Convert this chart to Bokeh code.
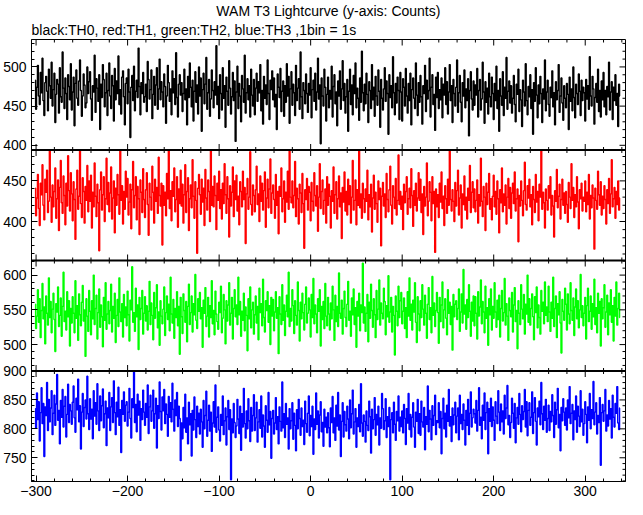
import math
from bokeh.plotting import figure
from bokeh.models import Range1d, FixedTicker, Span, Title
from bokeh.embed import file_html
from bokeh.resources import INLINE

FONT = "Liberation Sans"

# first bin time (s); 1 bin = 1 s
T_START = -301

# TH0 (black) counts per 1 s bin
th0 = [
    483, 446, 474, 502, 463, 452, 493, 467, 511, 457, 438, 480, 488, 469, 444, 497, 476, 460, 506, 450,
    471, 492, 429, 465, 484, 478, 441, 499, 462, 455, 519, 473, 447, 486, 466, 433, 490, 475, 458, 504,
    445, 468, 487, 425, 479, 496, 460, 451, 482, 509, 470, 437, 463, 491, 477, 448, 454, 500, 466, 481,
    494, 459, 432, 476, 468, 515, 442, 485, 473, 456, 490, 420, 478, 461, 503, 484, 449, 467, 492, 438,
    470, 505, 463, 447, 489, 476, 431, 498, 458, 482, 466, 514, 452, 471, 440, 487, 495, 462, 426, 479,
    486, 453, 497, 468, 410, 474, 489, 457, 501, 444, 469, 483, 461, 524, 475, 439, 480, 466, 493, 455,
    462, 478, 443, 507, 484, 459, 471, 496, 434, 465, 488, 451, 477, 499, 446, 472, 510, 458, 481, 468,
    449, 491, 475, 428, 463, 502, 480, 456, 472, 439, 495, 467, 485, 452, 518, 461, 436, 478, 490, 464,
    480, 443, 466, 497, 458, 472, 426, 488, 461, 505, 474, 449, 483, 431, 469, 494, 455, 477, 440, 500,
    463, 486, 418, 471, 492, 453, 478, 512, 446, 467, 484, 437, 459, 496, 470, 448, 481, 464, 527, 452,
    475, 434, 490, 466, 445, 499, 460, 476, 423, 487, 469, 451, 508, 473, 440, 462, 493, 457, 482, 405,
    468, 501, 447, 479, 463, 430, 489, 472, 455, 515, 441, 467, 485, 458, 476, 436, 497, 464, 450, 484,
    439, 473, 492, 456, 481, 467, 503, 444, 470, 427, 488, 460, 477, 452, 509, 466, 433, 483, 471, 495,
    458, 486, 449, 465, 420, 491, 474, 461, 498, 443, 469, 482, 437, 476, 455, 504, 463, 488, 428, 472,
    494, 451, 478, 467, 438, 502, 457, 473, 485, 446, 519, 462, 434, 480, 470, 453, 491, 466, 442, 479,
    464, 499, 435, 471, 483, 456, 492, 445, 468, 511, 459, 477, 402, 486, 463, 450, 497, 474, 431, 465,
    487, 448, 470, 459, 501, 436, 475, 490, 453, 468, 425, 482, 463, 495, 446, 472, 508, 457, 479, 441,
    462, 484, 418, 469, 497, 452, 477, 439, 489, 466, 505, 448, 473, 460, 432, 486, 455, 520, 467, 444,
    478, 453, 492, 465, 429, 481, 470, 447, 503, 458, 474, 437, 488, 463, 451, 496, 469, 423, 484, 460,
    445, 472, 499, 456, 482, 466, 414, 490, 461, 476, 448, 513, 467, 439, 479, 454, 487, 470, 433, 493,
    468, 431, 485, 474, 450, 498, 463, 441, 479, 457, 492, 426, 471, 486, 460, 447, 505, 464, 438, 480,
    455, 489, 462, 427, 476, 466, 502, 443, 483, 459, 470, 511, 436, 474, 490, 452, 465, 419, 487, 461,
    493, 447, 471, 458, 486, 435, 478, 464, 499, 452, 481, 440, 468, 503, 457, 476, 429, 484, 466, 450,
    474, 509, 442, 467, 489, 455, 430, 480, 463, 496, 448, 472, 457, 485, 412, 470, 494, 459, 445, 482,
    451, 477, 464, 498, 436, 470, 484, 445, 459, 506, 468, 428, 481, 455, 473, 440, 492, 462, 449, 487,
    466, 433, 479, 457, 501, 447, 470, 418, 485, 463, 451, 494, 438, 474, 460, 512, 446, 469, 482, 454,
    476, 441, 460, 489, 452, 430, 478, 465, 497, 443, 471, 458, 424, 483, 468, 450, 504, 457, 439, 475,
    462, 490, 447, 471, 414, 480, 456, 499, 464, 435, 477, 453, 488, 466, 429, 472, 459, 509, 444, 468,
    483, 452, 437, 474, 461, 495, 449, 467, 426, 481, 458, 470, 503, 442, 463, 486, 454, 432, 476, 460,
    448, 479, 465, 420, 487, 456, 472, 444, 500, 461, 435, 478, 466, 452, 491, 469, 438, 483, 457, 474,
    467, 431, 484, 459, 476, 446, 513, 463, 450, 488, 472, 427, 461, 479, 455, 497, 443, 470, 436, 482,
    458, 493, 449, 470, 439, 475, 462, 506, 445, 468, 481, 433, 474, 457, 490, 451, 466, 424, 478, 463,
]

# TH1 (red)
th1 = [
    441, 407, 429, 458, 416, 395, 447, 433, 470, 420, 402, 452, 436, 463, 411, 425, 488, 430, 399, 445,
    418, 437, 466, 404, 428, 451, 389, 442, 475, 423, 410, 456, 432, 396, 447, 419, 481, 438, 413, 460,
    434, 401, 449, 427, 378, 440, 463, 415, 431, 488, 422, 405, 454, 437, 398, 443, 426, 469, 412, 450,
    425, 457, 392, 436, 418, 472, 431, 406, 446, 423, 364, 439, 461, 414, 433, 455, 400, 428, 478, 421,
    448, 412, 435, 467, 403, 429, 450, 386, 441, 420, 458, 433, 409, 488, 426, 444, 397, 437, 415, 462,
    430, 453, 408, 424, 446, 391, 439, 474, 417, 432, 455, 402, 443, 428, 384, 451, 436, 411, 465, 427,
    405, 439, 460, 421, 383, 447, 430, 414, 468, 436, 398, 452, 425, 442, 410, 479, 432, 419, 447, 371,
    444, 420, 436, 407, 459, 428, 488, 416, 438, 401, 449, 431, 466, 412, 427, 455, 393, 440, 422, 463,
    419, 446, 398, 433, 470, 411, 437, 454, 389, 428, 445, 417, 476, 431, 404, 449, 426, 361, 441, 458,
    433, 409, 452, 424, 441, 395, 464, 429, 414, 451, 437, 400, 488, 420, 443, 418, 456, 432, 390, 447,
    426, 462, 416, 439, 403, 447, 422, 471, 433, 410, 455, 428, 381, 444, 419, 436, 467, 406, 450, 427,
    457, 413, 431, 396, 449, 437, 418, 462, 427, 442, 373, 434, 453, 415, 430, 486, 421, 408, 445, 432,
    412, 439, 468, 421, 434, 400, 456, 425, 447, 414, 438, 461, 393, 429, 452, 417, 440, 477, 410, 435,
    445, 427, 404, 458, 420, 437, 385, 443, 431, 466, 412, 428, 450, 399, 436, 424, 462, 415, 488, 430,
    423, 450, 417, 432, 474, 406, 441, 428, 397, 446, 435, 411, 459, 422, 367, 439, 427, 453, 414, 443,
    436, 401, 448, 425, 413, 460, 432, 419, 444, 388, 430, 471, 416, 437, 451, 409, 426, 440, 398, 455,
    420, 446, 431, 392, 438, 425, 467, 410, 433, 449, 403, 428, 456, 418, 435, 379, 442, 424, 461, 413,
    437, 408, 452, 421, 444, 398, 430, 475, 414, 426, 451, 396, 439, 420, 488, 417, 434, 404, 447, 428,
    411, 440, 425, 463, 402, 433, 418, 446, 387, 429, 457, 415, 436, 422, 399, 450, 427, 441, 370, 431,
    448, 419, 434, 405, 459, 427, 412, 439, 468, 420, 397, 444, 430, 416, 453, 408, 426, 482, 421, 437,
    415, 431, 390, 446, 423, 437, 455, 409, 428, 441, 417, 465, 432, 394, 438, 420, 447, 413, 429, 460,
    426, 452, 411, 434, 384, 443, 419, 430, 472, 407, 425, 449, 436, 401, 455, 422, 437, 362, 440, 418,
    433, 405, 447, 424, 461, 416, 431, 395, 444, 428, 410, 452, 420, 488, 427, 413, 439, 425, 400, 448,
    419, 438, 463, 408, 429, 445, 392, 434, 421, 456, 414, 430, 403, 441, 426, 469, 411, 436, 449, 417,
    440, 412, 426, 451, 398, 433, 419, 478, 425, 406, 443, 430, 389, 447, 421, 436, 459, 415, 428, 402,
    431, 457, 418, 437, 409, 450, 428, 386, 439, 423, 466, 412, 434, 420, 445, 397, 430, 453, 416, 442,
    404, 435, 447, 422, 461, 413, 428, 440, 375, 432, 419, 450, 426, 407, 438, 473, 421, 414, 444, 429,
    452, 418, 433, 396, 443, 427, 411, 458, 424, 437, 401, 446, 430, 488, 415, 436, 423, 392, 440, 426,
    414, 444, 429, 455, 408, 432, 419, 381, 438, 425, 464, 417, 431, 446, 403, 427, 452, 420, 435, 410,
    437, 421, 399, 448, 430, 416, 471, 426, 442, 405, 433, 418, 455, 424, 391, 439, 428, 447, 413, 430,
    425, 450, 412, 436, 421, 458, 403, 432, 417, 445, 429, 366, 441, 426, 415, 462, 433, 420, 449, 408,
    431, 416, 444, 427, 397, 439, 422, 453, 410, 434, 476, 418, 428, 442, 404, 437, 421, 450, 414, 429,
]

# TH2 (green)
th2 = [
    558, 523, 541, 579, 532, 566, 510, 549, 588, 537, 554, 501, 570, 545, 528, 596, 539, 562, 517, 551,
    574, 536, 490, 559, 547, 583, 526, 542, 567, 512, 555, 604, 533, 548, 521, 576, 540, 563, 498, 552,
    531, 569, 545, 517, 592, 538, 556, 506, 573, 543, 527, 561, 585, 534, 550, 483, 566, 541, 519, 578,
    548, 514, 563, 537, 600, 529, 552, 571, 508, 546, 580, 525, 557, 540, 497, 568, 535, 589, 522, 544,
    562, 530, 549, 587, 518, 555, 538, 574, 503, 542, 565, 526, 596, 547, 533, 559, 511, 572, 539, 554,
    527, 577, 543, 505, 564, 550, 612, 532, 546, 519, 581, 540, 557, 493, 568, 536, 552, 578, 515, 545,
    569, 534, 556, 521, 548, 591, 529, 560, 542, 507, 575, 538, 553, 586, 524, 547, 499, 563, 541, 530,
    551, 583, 513, 546, 570, 536, 558, 520, 597, 544, 531, 565, 509, 552, 539, 576, 527, 555, 486, 568,
    540, 516, 573, 549, 532, 562, 504, 555, 587, 529, 546, 570, 518, 559, 543, 601, 535, 523, 566, 548,
    575, 537, 553, 496, 564, 545, 582, 526, 541, 568, 511, 556, 539, 592, 530, 549, 514, 577, 544, 533,
    522, 561, 546, 584, 517, 538, 572, 550, 501, 563, 534, 557, 589, 528, 545, 568, 508, 552, 579, 540,
    557, 529, 597, 543, 562, 512, 548, 535, 574, 520, 554, 542, 491, 566, 537, 583, 524, 550, 561, 515,
    543, 570, 531, 555, 507, 581, 546, 559, 527, 594, 539, 518, 563, 549, 576, 532, 556, 500, 568, 541,
    565, 520, 547, 576, 538, 553, 487, 569, 544, 529, 586, 535, 557, 513, 548, 571, 540, 604, 526, 552,
    534, 579, 556, 516, 563, 542, 528, 590, 549, 505, 561, 537, 574, 546, 521, 558, 583, 531, 545, 567,
    550, 511, 572, 539, 595, 530, 557, 544, 517, 566, 548, 579, 498, 555, 536, 562, 523, 588, 541, 527,
    568, 544, 521, 560, 537, 584, 550, 506, 571, 533, 555, 526, 603, 545, 538, 564, 515, 552, 577, 539,
    526, 558, 591, 535, 548, 512, 567, 543, 580, 529, 553, 496, 562, 541, 574, 520, 557, 546, 617, 531,
    554, 519, 545, 572, 504, 561, 538, 587, 549, 525, 566, 543, 510, 578, 536, 551, 593, 528, 560, 545,
    537, 581, 562, 514, 556, 540, 599, 532, 547, 568, 518, 555, 542, 485, 570, 548, 527, 584, 539, 563,
    575, 530, 548, 567, 523, 553, 510, 576, 541, 596, 535, 558, 521, 564, 547, 589, 532, 503, 569, 544,
    520, 563, 539, 586, 551, 528, 571, 545, 509, 558, 582, 536, 553, 517, 598, 542, 560, 526, 549, 575,
    546, 502, 568, 533, 557, 590, 524, 550, 566, 538, 514, 579, 545, 561, 529, 555, 492, 572, 540, 558,
    563, 536, 552, 580, 519, 547, 573, 531, 608, 544, 557, 522, 565, 539, 586, 548, 512, 561, 534, 570,
    527, 569, 545, 508, 576, 541, 554, 593, 530, 562, 547, 517, 584, 538, 553, 499, 566, 543, 580, 521,
    555, 538, 589, 547, 525, 564, 536, 571, 511, 552, 578, 534, 546, 595, 528, 559, 541, 506, 567, 549,
    540, 575, 518, 557, 582, 533, 549, 494, 563, 545, 529, 586, 551, 537, 572, 515, 558, 544, 600, 532,
    566, 528, 552, 573, 540, 507, 569, 546, 583, 524, 557, 539, 515, 578, 548, 561, 530, 590, 542, 554,
    533, 584, 547, 519, 561, 538, 597, 526, 552, 570, 510, 559, 543, 576, 531, 488, 565, 548, 535, 581,
    558, 521, 573, 544, 530, 589, 549, 535, 567, 513, 554, 580, 537, 563, 524, 550, 601, 539, 556, 527,
    545, 568, 508, 556, 581, 533, 548, 570, 522, 559, 540, 594, 529, 553, 517, 574, 545, 562, 498, 566,
    537, 553, 586, 525, 547, 571, 514, 560, 543, 579, 532, 556, 505, 568, 541, 590, 528, 552, 574, 539,
]

# TH3 (blue)
th3 = [
    835, 801, 862, 816, 847, 779, 828, 871, 809, 844, 752, 838, 823, 880, 797, 851, 812, 836, 866, 790,
    827, 858, 806, 843, 894, 815, 832, 774, 849, 820, 868, 803, 839, 856, 786, 825, 877, 811, 842, 831,
    808, 846, 874, 819, 794, 853, 833, 886, 812, 840, 765, 829, 861, 804, 837, 850, 817, 891, 826, 799,
    852, 817, 834, 783, 866, 822, 845, 808, 878, 831, 797, 857, 814, 840, 869, 802, 826, 848, 771, 836,
    819, 863, 797, 838, 854, 811, 883, 828, 790, 846, 821, 872, 806, 833, 759, 849, 825, 864, 813, 841,
    847, 805, 829, 870, 818, 784, 852, 837, 899, 811, 842, 795, 860, 824, 848, 780, 835, 816, 867, 829,
    806, 844, 820, 876, 792, 838, 858, 813, 831, 867, 801, 826, 853, 767, 840, 818, 881, 830, 798, 855,
    831, 868, 809, 843, 825, 787, 856, 820, 845, 812, 879, 834, 796, 850, 823, 863, 804, 839, 818, 745,
    810, 783, 837, 802, 860, 794, 819, 774, 846, 807, 826, 753, 832, 798, 855, 816, 785, 839, 804, 827,
    791, 834, 812, 768, 849, 800, 823, 865, 787, 815, 841, 796, 829, 761, 810, 847, 803, 876, 794, 820,
    838, 798, 779, 825, 806, 857, 790, 814, 836, 772, 821, 849, 799, 833, 712, 817, 793, 844, 811, 785,
    805, 851, 817, 792, 839, 763, 826, 803, 870, 809, 784, 831, 800, 852, 814, 778, 837, 796, 823, 859,
    797, 819, 846, 777, 812, 833, 801, 857, 786, 824, 805, 768, 840, 815, 794, 863, 807, 830, 749, 818,
    832, 791, 810, 854, 799, 821, 774, 838, 813, 796, 881, 802, 826, 785, 844, 808, 819, 765, 835, 800,
    814, 845, 782, 827, 806, 762, 833, 800, 851, 818, 789, 836, 804, 815, 773, 848, 809, 794, 827, 857,
    788, 823, 804, 839, 756, 817, 799, 862, 808, 831, 784, 824, 847, 795, 811, 770, 834, 803, 820, 793,
    828, 802, 769, 836, 811, 856, 793, 819, 780, 841, 805, 863, 798, 824, 752, 813, 845, 786, 830, 807,
    796, 839, 817, 783, 850, 802, 826, 867, 791, 812, 835, 768, 819, 804, 842, 795, 878, 810, 787, 824,
    813, 777, 831, 806, 797, 848, 821, 758, 834, 800, 816, 854, 789, 825, 807, 839, 772, 819, 801, 861,
    835, 799, 814, 852, 785, 821, 804, 837, 712, 816, 828, 793, 846, 808, 780, 830, 814, 857, 796, 820,
    804, 831, 793, 842, 818, 773, 835, 810, 861, 799, 825, 786, 820, 845, 803, 768, 829, 813, 851, 792,
    826, 789, 848, 812, 803, 837, 764, 821, 808, 874, 795, 832, 817, 781, 840, 806, 823, 858, 790, 814,
    811, 845, 802, 830, 757, 818, 853, 800, 827, 786, 841, 813, 868, 805, 821, 778, 836, 807, 824, 846,
    793, 822, 836, 781, 858, 809, 825, 799, 843, 815, 772, 832, 806, 851, 790, 827, 864, 803, 819, 834,
    826, 810, 849, 796, 832, 871, 806, 820, 783, 841, 815, 862, 799, 828, 846, 757, 835, 813, 853, 804,
    838, 815, 780, 847, 822, 809, 866, 829, 797, 843, 812, 831, 791, 858, 818, 836, 875, 807, 823, 785,
    811, 853, 827, 801, 844, 776, 819, 837, 808, 861, 825, 795, 840, 816, 830, 868, 803, 847, 788, 832,
    845, 806, 820, 864, 792, 828, 854, 813, 772, 836, 821, 848, 807, 880, 826, 799, 839, 815, 851, 794,
    818, 841, 797, 830, 812, 859, 823, 785, 846, 808, 833, 870, 802, 825, 762, 837, 814, 852, 829, 806,
    836, 798, 850, 819, 873, 809, 827, 842, 781, 831, 816, 857, 794, 839, 822, 804, 866, 812, 834, 789,
    809, 847, 825, 776, 838, 815, 861, 800, 833, 818, 882, 807, 829, 845, 791, 823, 811, 854, 737, 828,
    842, 813, 831, 868, 796, 824, 805, 849, 817, 835, 784, 858, 820, 803, 844, 827, 873, 810, 799, 836,
]

# axis settings
x_limits = (-305, 344)
x_major = [-300, -200, -100, 0, 100, 200, 300]
x_minor = list(range(-300, 341, 20))

# panels, top to bottom: name, values, colour, visible y-limits, labelled ticks, minor step
panels = [
    ("th0", th0, "#000000", (394, 535), [400, 450, 500], 10),
    ("th1", th1, "#ff0000", (352, 488), [400, 450], 10),
    ("th2", th2, "#00ff00", (462, 621), [500, 550, 600], 10),
    ("th3", th3, "#0000ff", (709, 900), [750, 800, 850, 900], 10),
]

title_text = "WAM T3 Lightcurve (y-axis: Counts)"
subtitle_text = "black:TH0, red:TH1, green:TH2, blue:TH3 ,1bin = 1s"

lengths = [len(v) for (_, v, *_r) in panels]
if len(set(lengths)) != 1:
    raise ValueError("series lengths differ: %s" % lengths)

n_pan = len(panels)

p = figure(frame_width=594, frame_height=442,
           x_range=Range1d(*x_limits), y_range=Range1d(0, n_pan),
           output_backend="svg", toolbar_location=None, title=None,
           min_border_left=30, min_border_right=3, min_border_top=0, min_border_bottom=0,
           background_fill_color="white", border_fill_color="white")
p.xgrid.visible = False
p.ygrid.visible = False
p.outline_line_color = "black"
p.outline_line_width = 1

extra = {}
y_major, y_minor, y_labels = [], [], {}
for i, (name, vals, color, (lo, hi), labs, step) in enumerate(panels):
    span = hi - lo
    base = n_pan - 1 - i
    extra[name] = Range1d(lo - base * span, hi + i * span)
    for v in labs:
        pos = round(base + (v - lo) / span, 6)
        y_major.append(pos)
        y_labels[pos] = str(v)
    first = int(math.ceil(lo / step) * step)
    for v in range(first, hi + 1, step):
        if v not in labs:
            y_minor.append(round(base + (v - lo) / span, 6))
p.extra_y_ranges = extra

# histogram-style light curves (one step per 1 s bin)
for name, vals, color, lims, labs, step in panels:
    xs = [T_START + k for k in range(len(vals))]
    p.step(xs, vals, mode="center", y_range_name=name, line_color=color, line_width=1.4)

# panel boundaries
for b in range(1, n_pan):
    p.add_layout(Span(location=b, dimension="width", line_color="black", line_width=2))

# inward tick marks on the top edge, the inner boundaries and the right edge
x_minor_only = [x for x in x_minor if x not in x_major]
edges = list(range(1, n_pan + 1))
p.scatter([x for b in edges for x in x_major], [b for b in edges for x in x_major],
          marker="dash", size=12, angle=math.pi / 2, line_color="black", line_width=1)
p.scatter([x for b in edges for x in x_minor_only], [b for b in edges for x in x_minor_only],
          marker="dash", size=6, angle=math.pi / 2, line_color="black", line_width=1)
p.scatter([x_limits[1]] * len(y_major), y_major, marker="dash", size=12,
          line_color="black", line_width=1)
p.scatter([x_limits[1]] * len(y_minor), y_minor, marker="dash", size=6,
          line_color="black", line_width=1)


def style(ax):
    ax.axis_line_color = "black"
    ax.axis_line_width = 1
    ax.major_tick_line_color = "black"
    ax.minor_tick_line_color = "black"
    ax.major_tick_out = 0
    ax.minor_tick_out = 0
    ax.major_tick_in = 6
    ax.minor_tick_in = 3
    ax.major_label_text_font = FONT
    ax.major_label_text_color = "black"
    ax.major_label_text_font_size = "14px"


# left y axis
yl = p.yaxis[0]
yl.ticker = FixedTicker(ticks=y_major, minor_ticks=y_minor)
yl.major_label_overrides = y_labels
style(yl)
yl.major_label_standoff = 5

# bottom x axis
xb = p.xaxis[0]
xb.ticker = FixedTicker(ticks=x_major, minor_ticks=x_minor)
style(xb)
xb.major_label_standoff = 4

p.add_layout(Title(text=subtitle_text, align="left", text_font=FONT, text_font_size="14px",
                   text_font_style="normal", text_color="black", standoff=3), "above")
p.add_layout(Title(text=title_text, align="center", text_font=FONT, text_font_size="14px",
                   text_font_style="normal", text_color="black", standoff=0, offset=-12), "above")

open("out.html", "w").write(file_html(p, INLINE))
